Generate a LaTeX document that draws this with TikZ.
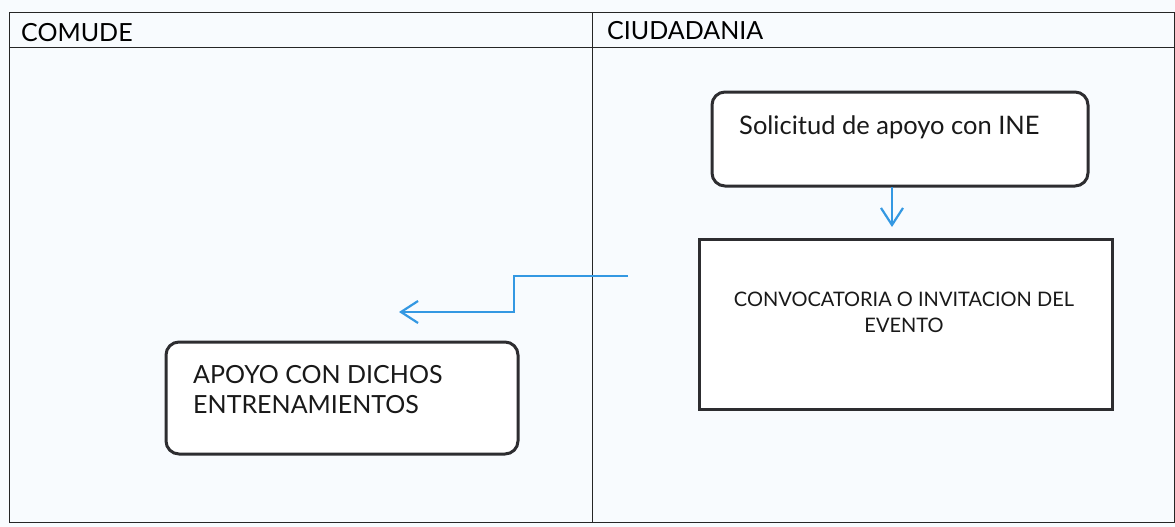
\documentclass[tikz,border=0pt]{standalone}
\usepackage{fontspec}
\setmainfont{Lato}
\usetikzlibrary{arrows.meta}
\definecolor{bg}{RGB}{248,251,254}
\definecolor{boxline}{RGB}{45,45,48}
\definecolor{flowblue}{RGB}{52,152,226}
\tikzset{
  gridline/.style={draw=black!85, line width=1pt},
  roundbox/.style={draw=boxline, line width=3pt, rounded corners=13pt, inner sep=0pt, fill=white},
  squarebox/.style={draw=boxline, line width=3pt, inner sep=0pt, fill=white},
  flow/.style={draw=flowblue, line width=2.4pt, -{Straight Barb[length=17pt,width=22pt,line width=2.2pt]}},
  headtext/.style={anchor=base west, inner sep=0pt, font=\fontsize{25}{30}\selectfont},
  boxtext/.style={inner sep=0pt, text=black!90}
}
\begin{document}
\begin{tikzpicture}[x=1pt,y=-1pt]
  \fill[bg] (0,0) rectangle (1175,527);
  \useasboundingbox (0,0) rectangle (1175,527);
  % table
  \draw[gridline] (9,13) rectangle (1174,522);
  \draw[gridline] (9,48) -- (1174,48);
  \draw[gridline] (592,13) -- (592,522);
  \node[headtext] (h1) at (21,42) {COMUDE};
  \node[headtext] (h2) at (607,40) {CIUDADANIA};
  % boxes
  \node[roundbox, minimum width=376pt, minimum height=94pt] (b1) at (900,139) {};
  \node[boxtext, anchor=base west, font=\fontsize{25.5}{30}\selectfont] (t1) at (739,134) {Solicitud de apoyo con INE};
  \node[squarebox, minimum width=413pt, minimum height=170pt] (b2) at (905.5,324) {};
  \node[boxtext, anchor=base, align=center, font=\fontsize{20}{26}\selectfont] (t2) at (904,332) {CONVOCATORIA O INVITACION DEL\\EVENTO};
  \node[roundbox, minimum width=352pt, minimum height=112pt] (b3) at (342,398) {};
  \node[boxtext, anchor=base west, align=left, font=\fontsize{25}{30}\selectfont] (t3) at (193,413) {APOYO CON DICHOS\\ENTRENAMIENTOS};
  % connectors
  \coordinate (a1s) at (892,187);
  \coordinate (a1e) at (892,227);
  \draw[flow] (a1s) -- (a1e);
  \coordinate (a2s) at (628,276);
  \coordinate (a2m) at (514,276);
  \coordinate (a2n) at (514,312);
  \coordinate (a2e) at (399,312);
  \draw[flow] (a2s) -- (a2m) -- (a2n) -- (a2e);
\end{tikzpicture}
\end{document}
